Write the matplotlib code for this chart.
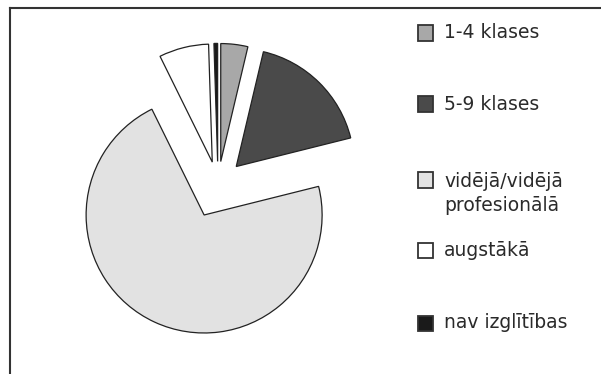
import matplotlib
matplotlib.use('Agg')
import matplotlib.pyplot as plt
from matplotlib.patches import Rectangle
from matplotlib.lines import Line2D

plt.rcParams['font.family'] = ['DejaVu Sans']

labels = ['1-4 klases', '5-9 klases', 'vidējā/vidējā\nprofesionālā', 'augstākā', 'nav izglītības']
shares = [3.7, 17.4, 71.6, 6.8, 0.5]   # procenti
colors = ['#a8a8a8', '#4a4a4a', '#e2e2e2', '#ffffff', '#1a1a1a']
explode = [0.2, 0.22, 0.28, 0.2, 0.2]

W, H = 601, 374
fig = plt.figure(figsize=(W / 100, H / 100), dpi=100)
ax = fig.add_axes([0, 0, 1, 1])

ax.pie(shares, colors=colors, explode=explode, startangle=90, counterclock=False,
       wedgeprops=dict(edgecolor='#222222', linewidth=0.9))

# pie centre at (218, 185) px, radius 118 px
cx, cy, r = 218, 185, 118
ax.set_xlim(-cx / r, (W - cx) / r)
ax.set_ylim(-(H - cy) / r, cy / r)
ax.set_aspect('auto')
ax.axis('off')

# frame of the chart area
fig.add_artist(Line2D([10 / W, 1], [1 - 8 / H, 1 - 8 / H], color='#333333', lw=1.5))
fig.add_artist(Line2D([10 / W, 10 / W], [0, 1 - 8 / H], color='#333333', lw=1.5))

# legend
legend_y = [33, 104, 180, 250, 323]
for lab, col, y in zip(labels, colors, legend_y):
    fig.add_artist(Rectangle((418 / W, 1 - (y + 7.5) / H), 15 / W, 15 / H,
                             facecolor=col, edgecolor='#333333', lw=1.3))
    n = lab.count('\n') + 1
    fig.text(444 / W, 1 - (y + (n - 1) * 13.5) / H, lab, fontsize=13.5, color='#2a2a2a',
             va='center', ha='left', linespacing=1.3)

fig.savefig('out.png', dpi=100)
